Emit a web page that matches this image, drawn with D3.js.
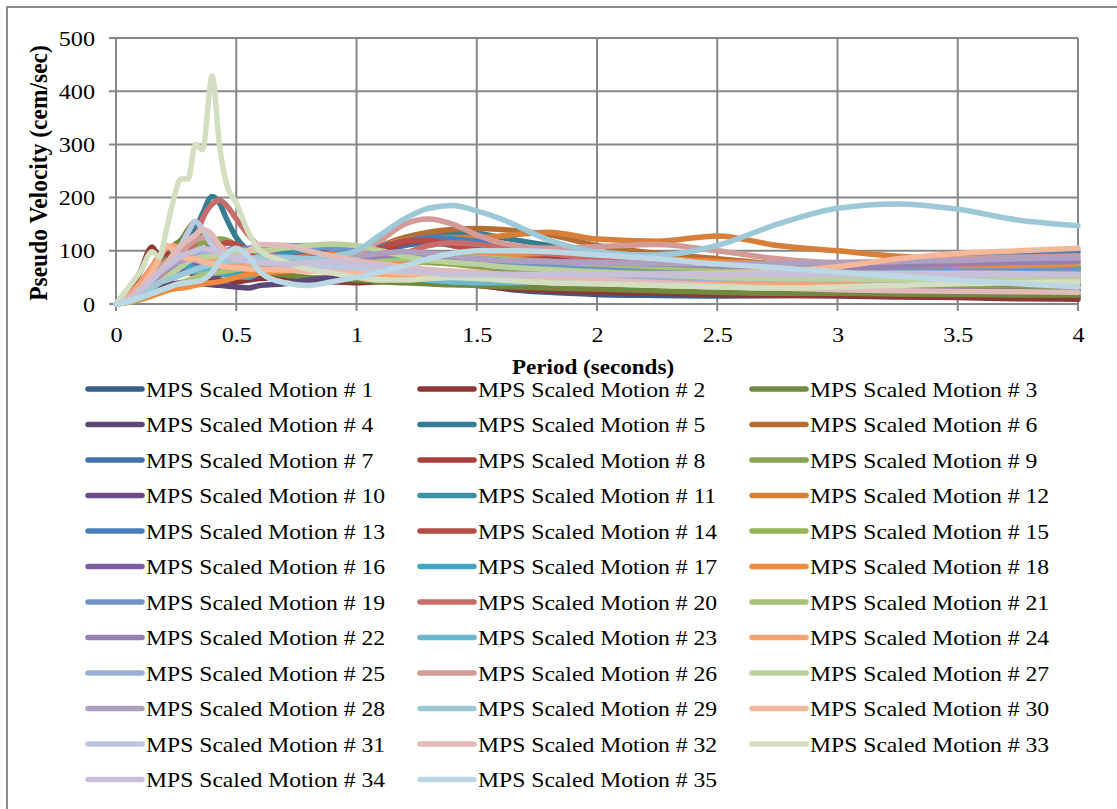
<!DOCTYPE html>
<html>
<head>
<meta charset="utf-8">
<script src="https://cdn.jsdelivr.net/npm/d3@7/dist/d3.min.js"></script>
<style>
  html, body { margin: 0; padding: 0; background: #fff; }
  svg { display: block; }
  text { font-family: "Liberation Serif", "Times New Roman", serif; fill: #000; }
</style>
</head>
<body>
<svg id="chart" width="1117" height="809"></svg>
<script>
// Period grid (seconds) shared by every response spectrum
const periods = [0, 0.05, 0.1, 0.15, 0.18, 0.21, 0.24, 0.27, 0.3, 0.33, 0.36, 0.4, 0.43, 0.46, 0.5, 0.55, 0.6, 0.7, 0.8, 0.9, 1.0, 1.1, 1.2, 1.3, 1.4, 1.5, 1.6, 1.8, 2.0, 2.25, 2.5, 2.75, 3.0, 3.25, 3.5, 3.75, 4.0];

// Pseudo velocity (cm/sec) of each scaled motion, one value per period
const motion1  = [0, 8, 25, 45, 55, 60, 58, 62, 70, 65, 60, 55, 58, 62, 70, 75, 80, 90, 95, 90, 85, 80, 70, 60, 50, 40, 30, 22, 18, 16, 15, 16, 17, 16, 15, 14, 13];
const motion2  = [0, 20, 60, 107, 85, 75, 70, 65, 60, 55, 50, 48, 45, 44, 42, 45, 48, 50, 45, 42, 40, 42, 45, 44, 40, 35, 30, 25, 22, 20, 18, 16, 15, 13, 12, 10, 9];
const motion3  = [0, 10, 35, 60, 80, 95, 110, 120, 140, 155, 130, 100, 90, 85, 75, 65, 60, 55, 50, 48, 45, 42, 40, 38, 36, 35, 33, 30, 28, 25, 22, 20, 20, 19, 18, 17, 17];
const motion4  = [0, 5, 15, 25, 30, 35, 38, 40, 42, 40, 38, 36, 35, 34, 32, 30, 35, 38, 45, 50, 55, 58, 60, 58, 55, 52, 50, 48, 45, 42, 40, 38, 36, 34, 30, 28, 26];
const motion5  = [0, 10, 30, 55, 70, 80, 95, 110, 125, 140, 170, 202, 190, 160, 125, 100, 85, 70, 65, 70, 80, 100, 120, 132, 135, 133, 125, 110, 95, 85, 75, 70, 65, 62, 60, 58, 56];
const motion6  = [0, 5, 15, 30, 40, 45, 50, 55, 60, 65, 70, 72, 70, 68, 65, 60, 58, 60, 70, 80, 95, 110, 125, 135, 140, 142, 140, 130, 110, 95, 85, 75, 65, 60, 55, 50, 47];
const motion7  = [0, 10, 30, 50, 60, 70, 75, 80, 85, 80, 75, 80, 90, 100, 105, 100, 95, 100, 105, 100, 95, 100, 110, 115, 110, 100, 90, 80, 70, 65, 62, 60, 60, 62, 64, 66, 68];
const motion8  = [0, 15, 40, 70, 90, 95, 80, 75, 90, 100, 95, 90, 105, 115, 110, 95, 85, 75, 70, 68, 75, 95, 115, 120, 115, 110, 100, 90, 80, 70, 60, 55, 50, 45, 42, 40, 38];
const motion9  = [0, 5, 20, 40, 55, 65, 75, 85, 100, 110, 115, 118, 122, 120, 110, 95, 85, 75, 70, 72, 75, 78, 80, 78, 75, 70, 65, 60, 55, 50, 45, 40, 38, 36, 35, 34, 33];
const motion10 = [0, 5, 18, 35, 45, 50, 55, 58, 60, 58, 55, 52, 55, 60, 65, 70, 75, 85, 95, 100, 98, 95, 90, 85, 80, 75, 70, 65, 60, 55, 52, 50, 48, 46, 45, 44, 43];
const motion11 = [0, 8, 25, 45, 55, 60, 65, 70, 75, 70, 65, 62, 60, 58, 60, 70, 80, 95, 100, 90, 80, 75, 80, 85, 88, 90, 85, 80, 75, 72, 70, 68, 68, 68, 68, 68, 68];
const motion12 = [0, 5, 15, 30, 40, 45, 50, 55, 60, 62, 65, 68, 70, 72, 75, 78, 80, 85, 90, 95, 100, 110, 120, 125, 125, 125, 128, 135, 122, 118, 128, 110, 100, 90, 85, 82, 80];
const motion13 = [0, 10, 28, 45, 55, 60, 65, 70, 75, 78, 80, 82, 85, 88, 90, 95, 100, 108, 110, 105, 100, 108, 118, 125, 122, 118, 110, 100, 90, 80, 75, 72, 72, 80, 88, 94, 98];
const motion14 = [0, 10, 30, 55, 70, 80, 90, 85, 80, 85, 95, 105, 110, 115, 112, 100, 90, 80, 75, 80, 90, 105, 118, 120, 110, 100, 90, 80, 70, 60, 55, 50, 45, 42, 40, 38, 36];
const motion15 = [0, 5, 20, 35, 45, 50, 55, 60, 65, 70, 75, 78, 80, 82, 85, 80, 75, 72, 70, 68, 70, 72, 75, 80, 82, 85, 82, 75, 70, 65, 60, 55, 55, 58, 62, 64, 65];
const motion16 = [0, 8, 22, 40, 50, 55, 60, 65, 70, 75, 80, 85, 90, 88, 85, 80, 78, 80, 85, 90, 92, 90, 88, 85, 82, 80, 78, 75, 72, 70, 68, 65, 62, 60, 58, 56, 55];
const motion17 = [0, 10, 30, 50, 60, 70, 75, 72, 70, 68, 65, 60, 58, 55, 52, 50, 60, 75, 85, 80, 70, 60, 50, 45, 42, 40, 42, 45, 50, 55, 60, 62, 65, 66, 67, 68, 68];
const motion18 = [0, 3, 8, 15, 20, 25, 28, 30, 32, 35, 38, 40, 42, 45, 50, 55, 58, 62, 65, 70, 72, 75, 80, 85, 88, 90, 92, 95, 90, 85, 80, 75, 70, 68, 70, 72, 75];
const motion19 = [0, 8, 25, 45, 55, 65, 70, 75, 80, 85, 88, 90, 92, 95, 100, 105, 108, 110, 108, 105, 100, 95, 90, 85, 80, 78, 75, 72, 70, 68, 66, 64, 62, 62, 62, 62, 62];
const motion20 = [0, 5, 20, 40, 50, 55, 60, 70, 90, 120, 160, 188, 195, 185, 160, 130, 105, 85, 75, 70, 72, 80, 95, 110, 115, 112, 105, 95, 85, 75, 70, 65, 60, 58, 56, 55, 55];
const motion21 = [0, 3, 10, 20, 25, 30, 35, 40, 45, 50, 55, 58, 60, 62, 65, 68, 70, 72, 75, 78, 80, 82, 85, 88, 90, 88, 85, 80, 75, 70, 65, 60, 55, 52, 50, 50, 50];
const motion22 = [0, 10, 28, 50, 60, 70, 80, 85, 90, 95, 90, 85, 80, 78, 75, 72, 70, 72, 75, 80, 85, 90, 92, 90, 88, 85, 82, 80, 78, 75, 72, 70, 70, 72, 75, 78, 80];
const motion23 = [0, 5, 15, 30, 40, 45, 50, 55, 60, 62, 65, 70, 75, 72, 70, 80, 90, 85, 78, 72, 65, 58, 50, 45, 42, 40, 40, 42, 45, 48, 50, 50, 50, 48, 46, 45, 44];
const motion24 = [0, 15, 40, 70, 90, 105, 110, 100, 95, 90, 88, 85, 80, 78, 75, 70, 68, 65, 62, 60, 58, 56, 55, 54, 52, 50, 48, 46, 44, 42, 40, 38, 38, 40, 42, 44, 45];
const motion25 = [0, 5, 15, 30, 40, 50, 60, 70, 80, 90, 95, 100, 98, 95, 90, 85, 80, 75, 72, 70, 68, 66, 64, 62, 60, 58, 56, 54, 52, 50, 48, 47, 46, 45, 44, 43, 42];
const motion26 = [0, 10, 30, 55, 70, 80, 85, 95, 110, 120, 125, 120, 110, 100, 90, 85, 80, 78, 80, 85, 95, 120, 150, 160, 150, 130, 115, 105, 108, 112, 100, 85, 78, 80, 85, 88, 90];
const motion27 = [0, 5, 15, 30, 40, 50, 60, 70, 80, 85, 88, 90, 92, 95, 98, 100, 100, 105, 110, 113, 110, 100, 90, 82, 78, 75, 70, 65, 60, 55, 50, 48, 47, 46, 45, 45, 45];
const motion28 = [0, 10, 28, 45, 55, 65, 75, 80, 85, 82, 78, 75, 72, 70, 68, 66, 65, 70, 78, 85, 90, 95, 98, 95, 90, 85, 82, 80, 78, 76, 75, 76, 78, 80, 82, 85, 87];
const motion29 = [0, 5, 15, 30, 40, 45, 50, 55, 60, 65, 70, 75, 78, 80, 82, 85, 88, 88, 85, 90, 100, 130, 160, 180, 185, 175, 160, 120, 98, 92, 110, 150, 180, 188, 178, 158, 147];
const motion30 = [0, 10, 30, 60, 85, 110, 100, 90, 85, 85, 80, 75, 72, 70, 68, 66, 65, 64, 63, 62, 62, 60, 58, 56, 55, 55, 56, 55, 55, 56, 58, 62, 70, 85, 95, 100, 105];
const motion31 = [0, 8, 25, 45, 60, 75, 90, 110, 135, 155, 140, 110, 95, 90, 85, 80, 78, 75, 72, 70, 68, 65, 62, 60, 58, 56, 55, 55, 55, 56, 57, 58, 58, 58, 58, 57, 56];
const motion32 = [0, 10, 30, 50, 60, 75, 95, 110, 120, 130, 140, 130, 110, 95, 85, 100, 112, 110, 100, 90, 82, 75, 70, 65, 62, 60, 55, 50, 45, 40, 35, 30, 27, 25, 24, 23, 22];
const motion33 = [0, 30, 60, 98, 88, 140, 198, 235, 235, 300, 290, 428, 300, 225, 190, 135, 100, 80, 65, 58, 50, 45, 45, 48, 50, 48, 45, 40, 38, 35, 32, 30, 32, 35, 38, 40, 41];
const motion34 = [0, 8, 25, 45, 60, 70, 80, 90, 95, 100, 105, 100, 95, 90, 88, 85, 80, 75, 78, 80, 75, 70, 65, 60, 55, 55, 55, 56, 56, 55, 55, 55, 55, 55, 55, 55, 55];
const motion35 = [0, 5, 12, 20, 25, 30, 35, 38, 40, 42, 45, 60, 80, 95, 105, 90, 60, 40, 35, 42, 50, 60, 72, 85, 95, 100, 100, 98, 92, 85, 75, 68, 60, 52, 45, 38, 32];

const seriesValues = [motion1, motion2, motion3, motion4, motion5, motion6, motion7, motion8, motion9, motion10,
  motion11, motion12, motion13, motion14, motion15, motion16, motion17, motion18, motion19, motion20,
  motion21, motion22, motion23, motion24, motion25, motion26, motion27, motion28, motion29, motion30,
  motion31, motion32, motion33, motion34, motion35];

const seriesNames = seriesValues.map((_, i) => "MPS Scaled Motion # " + (i + 1));

const seriesColors = [
  "#385D8A", "#8C3836", "#71893F", "#5C4776", "#357D91", "#B66D31",
  "#4170A8", "#A9403D", "#87A34E", "#6A4C8C", "#3C93A8", "#D77E38",
  "#4A7EBB", "#B84A47", "#97B653", "#7D5FA0", "#40A6C2", "#F08A3C",
  "#7094C8", "#C86D6B", "#A8C278", "#9580B4", "#6BB8D0", "#F7A26F",
  "#9AB0D6", "#D49A98", "#BCD29C", "#AFA0C0", "#9DC8D8", "#F7B899",
  "#BCC8E2", "#E0BBBA", "#D3DFC0", "#C8C0D8", "#BCD8E4"
];

const xTicks = [0, 0.5, 1, 1.5, 2, 2.5, 3, 3.5, 4];
const yTicks = [0, 100, 200, 300, 400, 500];

const svg = d3.select("#chart");
const gridColor = "#878787";
const stretch = 1.1; // glyphs are drawn slightly wide

// outer chart frame
svg.append("rect")
  .attr("x", 7).attr("y", 7).attr("width", 1130).attr("height", 820)
  .attr("fill", "none").attr("stroke", "#8c8c8c").attr("stroke-width", 2);

const plot = { left: 116, right: 1078, top: 38, bottom: 304 };
const x = d3.scaleLinear().domain([0, 4]).range([plot.left, plot.right]);
const y = d3.scaleLinear().domain([0, 500]).range([plot.bottom, plot.top]);

// gridlines
const gridG = svg.append("g");
gridG.selectAll("line.h").data(yTicks).join("line")
  .attr("x1", plot.left - 7).attr("x2", plot.right)
  .attr("y1", d => y(d)).attr("y2", d => y(d))
  .attr("stroke", gridColor).attr("stroke-width", 2);
gridG.selectAll("line.v").data(xTicks).join("line")
  .attr("x1", d => x(d)).attr("x2", d => x(d))
  .attr("y1", plot.top).attr("y2", plot.bottom + 7)
  .attr("stroke", gridColor).attr("stroke-width", 2);

// axis labels
const xAxis = d3.axisBottom(x).tickValues(xTicks).tickFormat(d3.format("")).tickSize(0).tickPadding(22);
const xg = svg.append("g").attr("transform", `translate(0,${plot.bottom})`).call(xAxis);
xg.select(".domain").remove();
xg.selectAll(".tick text")
  .attr("font-size", 22)
  .attr("x", 0)
  .attr("transform", `scale(${stretch},1)`);

const yAxis = d3.axisLeft(y).tickValues(yTicks).tickSize(0).tickPadding(0);
const yg = svg.append("g").attr("transform", `translate(${plot.left},0)`).call(yAxis);
yg.select(".domain").remove();
yg.selectAll(".tick text")
  .attr("font-size", 22)
  .attr("x", 0)
  .attr("transform", `translate(-21,0) scale(${stretch},1)`);

// axis titles
svg.append("text")
  .attr("transform", `translate(593,374) scale(${stretch},1)`)
  .attr("text-anchor", "middle")
  .attr("font-size", 21).attr("font-weight", "bold")
  .text("Period (seconds)");
svg.append("text")
  .attr("transform", `translate(47,173) scale(${stretch},1) rotate(-90)`)
  .attr("text-anchor", "middle")
  .attr("font-size", 23.5).attr("font-weight", "bold")
  .text("Pseudo Velocity (cem/sec)");

// spectra
const line = d3.line()
  .x((d, i) => x(periods[i]))
  .y(d => y(d))
  .curve(d3.curveMonotoneX);

svg.append("g").selectAll("path").data(seriesValues).join("path")
  .attr("d", d => line(d))
  .attr("fill", "none")
  .attr("stroke", (d, i) => seriesColors[i])
  .attr("stroke-width", 5.5)
  .attr("stroke-linejoin", "round")
  .attr("stroke-linecap", "round");

// legend: three columns, filled row by row
const legendCols = [86, 418, 750];
const legendTop = 389, legendStep = 35.5;
const lg = svg.append("g").selectAll("g").data(seriesNames).join("g")
  .attr("transform", (d, i) => `translate(${legendCols[i % 3]},${legendTop + Math.floor(i / 3) * legendStep})`);
lg.append("line")
  .attr("x1", 2).attr("x2", 56).attr("y1", 0).attr("y2", 0)
  .attr("stroke", (d, i) => seriesColors[i])
  .attr("stroke-width", 5.5).attr("stroke-linecap", "round");
lg.append("text")
  .attr("transform", `translate(60,0) scale(${stretch},1)`)
  .attr("dy", "0.35em")
  .attr("font-size", 21.5)
  .text(d => d);
</script>
</body>
</html>
